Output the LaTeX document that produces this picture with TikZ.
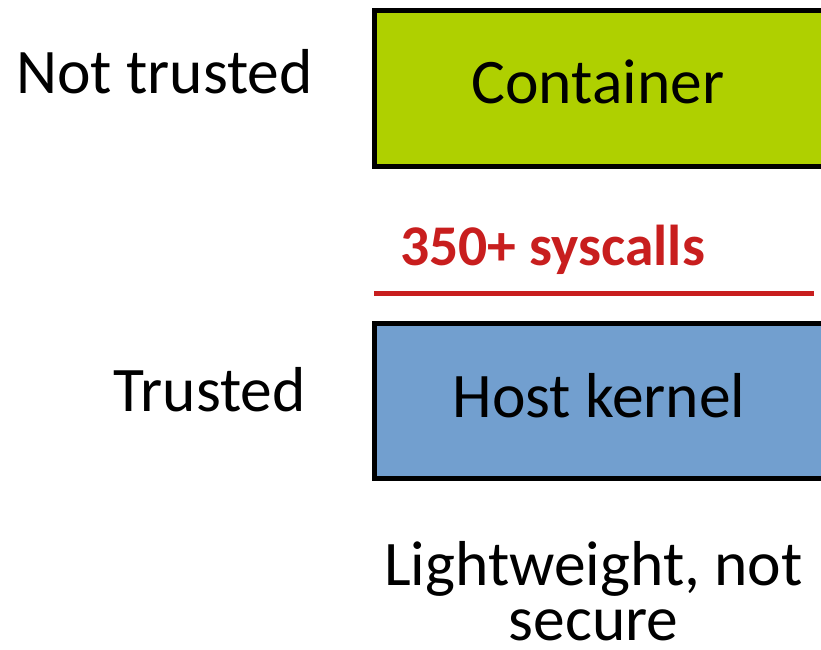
\documentclass[tikz,border=0pt]{standalone}
\usepackage{fontspec}
\setmainfont{Carlito}
\definecolor{limebox}{HTML}{AFD000}
\definecolor{bluebox}{HTML}{729FCF}
\definecolor{sysred}{HTML}{C81E1E}
\tikzset{
  layer/.style={draw=black, line width=5pt},
  lbl/.style={inner sep=0pt, font=\fontsize{63.5}{55}\selectfont},
}
\begin{document}
\begin{tikzpicture}[x=1pt, y=-1pt]
  \useasboundingbox (0,0) rectangle (821,649);
  \begin{scope}
    \clip (0,0) rectangle (821,649);
    % layers
    \path[layer, fill=limebox] (374,10) rectangle (830,166);
    \path[layer, fill=bluebox] (374,323) rectangle (830,478);
  \end{scope}
  \node[lbl, anchor=base] (cont) at (598,103) {Container};
  \node[lbl, anchor=base] (host) at (599,417) {Host kernel};
  % syscall boundary
  \coordinate (bl) at (374,293);
  \coordinate (br) at (814,293);
  \draw[sysred, line width=5pt] (bl) -- (br);
  \node[inner sep=0pt, anchor=base, text=sysred, font=\fontsize{57.6}{60}\selectfont\bfseries] (sys) at (552.5,265) {350+ syscalls};
  % trust labels
  \node[lbl, anchor=base east] (nt) at (313,93) {Not trusted};
  \node[lbl, anchor=base east] (tr) at (306,411) {Trusted};
  % caption
  \node[lbl, anchor=base, align=center] (cap) at (593.5,640) {Lightweight, not\\secure};
\end{tikzpicture}
\end{document}
